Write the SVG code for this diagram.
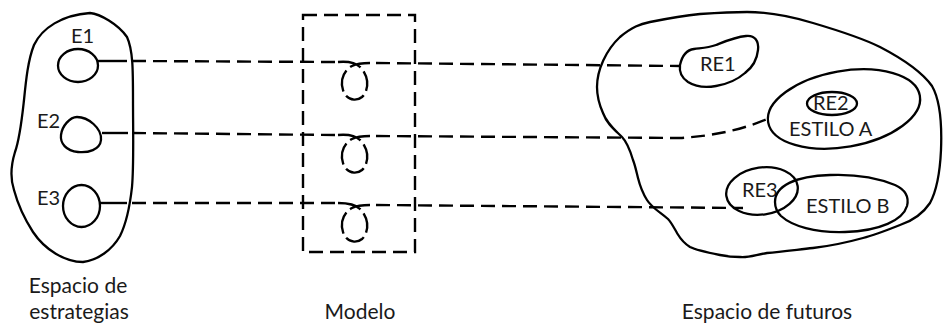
<svg xmlns="http://www.w3.org/2000/svg" width="945" height="328" viewBox="0 0 945 328">
<style>
.sh{fill:none;stroke:#000;stroke-width:2.3;stroke-linejoin:round;stroke-linecap:round}
.ds{fill:none;stroke:#000;stroke-width:2.4;stroke-dasharray:14 7}
.lp{fill:none;stroke:#000;stroke-width:2.4;stroke-dasharray:24 5 20 5 20 5 22 5 40}
.sl{fill:none;stroke:#000;stroke-width:2.4}
.t{font-family:Lato,"Open Sans","Liberation Sans",sans-serif;font-size:21px;fill:#1a1a1a}
.s{font-size:20px}
.tc{text-anchor:middle}
</style>
<rect width="945" height="328" fill="#fff"/>
<g id="espacio-estrategias">
<path class="sh" d="M90,13 C100,14 118,24 127,37 C133,50 133,70 133,100 C133,130 134,165 132,187 C130,205 127,222 120,236 C112,250 98,260 83,262 C65,262 45,250 33,232 C24,218 18,205 14,190 C10,178 11,165 15,152 C20,138 22,118 24,100 C26,80 28,60 34,45 C42,28 62,15 90,13 Z"/>
<text class="t tc" x="78" y="293">Espacio de</text>
<text class="t tc" x="79" y="319">estrategias</text>
</g>
<g id="E1">
<ellipse class="sh" cx="78" cy="65.5" rx="20" ry="16.5"/>
<text class="t s" x="71" y="43">E1</text>
</g>
<g id="E2">
<path class="sh" d="M77,117 C88,117 102,128 101,140 C100,150 88,153 78,152 C66,151 60,143 61,135 C62,126 70,117 77,117 Z"/>
<text class="t s" x="37" y="128">E2</text>
</g>
<g id="E3">
<ellipse class="sh" cx="81.5" cy="206" rx="18.5" ry="21"/>
<text class="t s" x="37" y="205">E3</text>
</g>
<g id="modelo">
<rect class="ds" x="303" y="15" width="112" height="237" stroke-dasharray="15 6"/>
<text class="t tc" x="360" y="319">Modelo</text>
</g>
<g id="espacio-futuros">
<path class="sh" d="M747,12 C770,12 790,16 813,23 C840,31 862,38 880,47 C905,60 922,72 932,86 C940,100 942,125 941,150 C940,172 937,190 930,203 C922,215 912,221 900,225 C885,231 875,235 863,238 C845,243 830,246 813,248 C795,250 780,252 767,253 C755,255 748,258 740,257 C730,257 725,256 720,255 C705,252 696,250 690,247 C682,242 680,238 677,233 C673,226 671,222 668,219 C660,212 652,208 647,200 C642,192 640,186 638,178 C636,170 635,165 633,160 C630,150 627,142 622,137 C615,130 607,124 603,113 C599,104 597,95 597,87 C597,70 606,50 620,37 C632,27 640,24 650,22 C665,19 680,16 700,14 C715,13 730,12 747,12 Z"/>
<text class="t tc" x="767" y="319">Espacio de futuros</text>
</g>
<g id="RE1">
<path class="sh" d="M680,65 C682,56 686,50 694,49 C702,48 708,48 716,45 C726,41 735,37 746,36 C755,35 759,41 758,50 C757,60 753,67 745,73 C737,80 728,84 716,86 C705,88 696,87 688,82 C682,78 679,72 680,65 Z"/>
<text class="t s" x="700" y="71">RE1</text>
</g>
<g id="estilo-a">
<ellipse class="sh" cx="844" cy="109" rx="77" ry="38" transform="rotate(-10 844 109)"/>
<text class="t s" x="789" y="136">ESTILO A</text>
</g>
<g id="RE2">
<ellipse class="sh" cx="832" cy="103.5" rx="25" ry="11.5"/>
<text class="t s" x="813" y="110">RE2</text>
</g>
<g id="RE3">
<ellipse class="sh" cx="762" cy="191" rx="36" ry="23.5" transform="rotate(-8 762 191)"/>
<text class="t s" x="742" y="197">RE3</text>
</g>
<g id="estilo-b">
<path class="sh" d="M775,202 C775,186 795,176 830,175 C855,174 878,178 895,185 C906,190 909,198 907,206 C903,220 880,231 845,232 C815,233 792,226 781,216 C777,212 775,207 775,202 Z"/>
<text class="t s" x="806" y="213">ESTILO B</text>
</g>
<g id="connectors">
<path class="sl" d="M98,61 L127,61"/>
<path class="ds" d="M132,61 L336,62"/>
<path class="lp" d="M338,62 C350,61 356,63 360,67 C368,74 370,90 362,97 C356,102 346,100 343,90 C340,80 344,70 352,66 C356,64 360,63 370,63"/>
<path class="ds" d="M376,63 L680,66"/>
<path class="sl" d="M102,133 L128,133"/>
<path class="ds" d="M132,133 L336,135"/>
<path class="lp" d="M338,135 C350,134 356,136 360,140 C368,147 370,163 362,170 C356,175 346,173 343,163 C340,153 344,143 352,139 C356,137 360,136 370,136"/>
<path class="ds" d="M376,136 L680,138 Q730,135 767,119"/>
<path class="sl" d="M100,203 L127,203"/>
<path class="ds" d="M132,203 L336,203"/>
<path class="lp" d="M338,203 C350,203 356,205 360,209 C368,216 370,232 362,239 C356,244 346,242 343,232 C340,222 344,212 352,208 C356,206 360,205 370,205"/>
<path class="ds" d="M376,205 L743,208"/>
</g>
</svg>
